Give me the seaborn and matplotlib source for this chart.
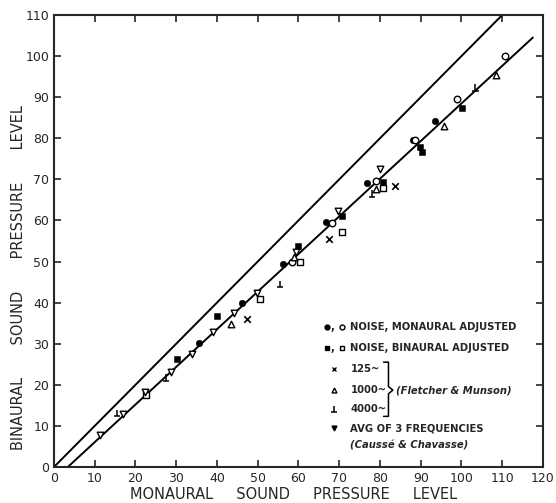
import numpy as np
import pandas as pd
import seaborn as sns
import matplotlib.pyplot as plt
from matplotlib.path import Path

# data (monaural SPL, binaural SPL)
mon_noise_x = [35.6, 46.2, 56.3, 66.8, 76.9, 88.0, 93.4]
mon_noise_y = [30.2, 39.8, 49.3, 59.5, 69.2, 79.6, 84.3]
mon_noise_open_x = [58.3, 68.3, 78.9, 88.6, 99.0, 110.8]
mon_noise_open_y = [49.8, 59.4, 69.5, 79.5, 89.6, 99.9]
bin_noise_x = [30.2, 40.0, 60.0, 70.8, 80.7, 89.9, 90.4, 100.2]
bin_noise_y = [26.4, 36.8, 53.9, 61.0, 69.3, 77.9, 76.7, 87.4]
bin_noise_open_x = [22.7, 50.6, 60.4, 70.8, 80.7]
bin_noise_open_y = [17.6, 41.0, 49.8, 57.2, 68.0]
f125_x = [47.4, 67.6, 83.8]
f125_y = [36.0, 55.5, 68.5]
f1000_x = [43.4, 59.0, 78.9, 95.6, 108.4]
f1000_y = [34.7, 51.2, 67.7, 83.1, 95.5]
f4000_x = [15.5, 27.5, 55.5, 78.0, 103.4]
f4000_y = [13.1, 21.8, 44.5, 66.6, 92.4]
avg3_x = [11.3, 17.0, 22.3, 28.8, 33.9, 39.1, 44.2, 49.7, 59.4, 69.8, 80.0]
avg3_y = [7.8, 12.8, 18.2, 23.0, 27.5, 32.8, 37.5, 42.3, 52.4, 62.3, 72.6]

equal_x = [0, 110]
equal_y = [0, 110]
fit_x = [3.4, 117.5]
fit_y = [0, 104.5]

ticks = list(range(0, 121, 10))

# inverted-T marker for the 4000~ points
perp = Path([(-1, -1), (1, -1), (0, -1), (0, 1)],
            [Path.MOVETO, Path.LINETO, Path.MOVETO, Path.LINETO])

sns.set_style("ticks")
plt.rcParams['font.family'] = ['DejaVu Sans']

fig = plt.figure(figsize=(5.56, 5.03), dpi=100)
ax = fig.add_axes([0.0971, 0.0716, 0.8795, 0.8986])

sns.lineplot(x=equal_x, y=equal_y, ax=ax, color='black', lw=1.4)
sns.lineplot(x=fit_x, y=fit_y, ax=ax, color='black', lw=1.4)

k = dict(ax=ax, zorder=3, legend=False)
sns.scatterplot(x=mon_noise_x, y=mon_noise_y, marker='o', s=22, color='black', edgecolor='black', **k)
sns.scatterplot(x=mon_noise_open_x, y=mon_noise_open_y, marker='o', s=22, facecolor='white', edgecolor='black', linewidth=1, **k)
sns.scatterplot(x=bin_noise_x, y=bin_noise_y, marker='s', s=22, color='black', edgecolor='black', **k)
sns.scatterplot(x=bin_noise_open_x, y=bin_noise_open_y, marker='s', s=22, facecolor='white', edgecolor='black', linewidth=1, **k)
sns.scatterplot(x=f125_x, y=f125_y, marker='x', s=22, color='black', linewidth=1.2, **k)
sns.scatterplot(x=f1000_x, y=f1000_y, marker='^', s=22, facecolor='white', edgecolor='black', linewidth=1, **k)
sns.scatterplot(x=f4000_x, y=f4000_y, marker=perp, s=22, facecolor='none', edgecolor='black', linewidth=1.1, **k)
sns.scatterplot(x=avg3_x, y=avg3_y, marker='v', s=22, facecolor='white', edgecolor='black', linewidth=1, **k)

ax.set_xlim(0, 120)
ax.set_ylim(0, 110)
ax.set_xticks(ticks)
ax.set_yticks(ticks[:-1])
ax.tick_params(direction='in', top=True, right=True, length=5, width=1.2, labelsize=9)
for s in ax.spines.values():
    s.set_visible(True)
    s.set_linewidth(1.5)
ax.set_xlabel("MONAURAL     SOUND     PRESSURE     LEVEL", fontsize=10.5)
ax.set_ylabel("BINAURAL       SOUND       PRESSURE       LEVEL", fontsize=10.5)
ax.xaxis.set_label_coords(0.49, -0.045)
ax.yaxis.set_label_coords(-0.058, 0.418)

# legend block drawn in axes fraction
lx_tx = 0.606
rows = [0.309, 0.263, 0.216, 0.170, 0.128]
fs = 7.2
ta = ax.transAxes
ax.plot([0.559], [rows[0]], 'o', color='black', ms=3.5, transform=ta)
ax.plot([0.588], [rows[0]], 'o', mfc='white', mec='black', ms=3.5, transform=ta)
ax.text(0.566, rows[0], ",", fontsize=fs, weight='bold', va='center', transform=ta)
ax.text(lx_tx, rows[0], "NOISE, MONAURAL ADJUSTED", fontsize=fs, weight='bold', va='center', transform=ta)
ax.plot([0.559], [rows[1]], 's', color='black', ms=3.5, transform=ta)
ax.plot([0.588], [rows[1]], 's', mfc='white', mec='black', ms=3.5, transform=ta)
ax.text(0.566, rows[1], ",", fontsize=fs, weight='bold', va='center', transform=ta)
ax.text(lx_tx, rows[1], "NOISE, BINAURAL ADJUSTED", fontsize=fs, weight='bold', va='center', transform=ta)
ax.plot([0.572], [rows[2]], 'x', color='black', ms=3.5, transform=ta)
ax.text(lx_tx, rows[2], "125~", fontsize=fs, weight='bold', va='center', transform=ta)
ax.plot([0.572], [rows[3]], '^', mfc='white', mec='black', ms=3.5, transform=ta)
ax.text(lx_tx, rows[3], "1000~", fontsize=fs, weight='bold', va='center', transform=ta)
ax.plot([0.572], [rows[4]], marker=perp, ls='none', mfc='none', mec='black', ms=5, mew=1.1, transform=ta)
ax.text(lx_tx, rows[4], "4000~", fontsize=fs, weight='bold', va='center', transform=ta)
# brace joining the three frequencies
bx0, bx1, bx2 = 0.674, 0.684, 0.693
ax.plot([bx0, bx1, bx1, bx2, bx1, bx1, bx0],
        [0.232, 0.232, rows[3] + 0.008, rows[3], rows[3] - 0.008, 0.112, 0.112],
        color='black', lw=1.1, transform=ta, clip_on=False)
ax.text(0.699, rows[3], "(Fletcher & Munson)", fontsize=fs, style='italic', weight='bold',
        va='center', transform=ta)
ax.plot([0.572], [0.086], 'v', color='black', ms=3.5, transform=ta)
ax.text(lx_tx, 0.086, "AVG OF 3 FREQUENCIES", fontsize=fs, weight='bold', va='center', transform=ta)
ax.text(lx_tx, 0.048, "(Caussé & Chavasse)", fontsize=fs, style='italic', weight='bold',
        va='center', transform=ta)

fig.savefig("out.png", dpi=100)
